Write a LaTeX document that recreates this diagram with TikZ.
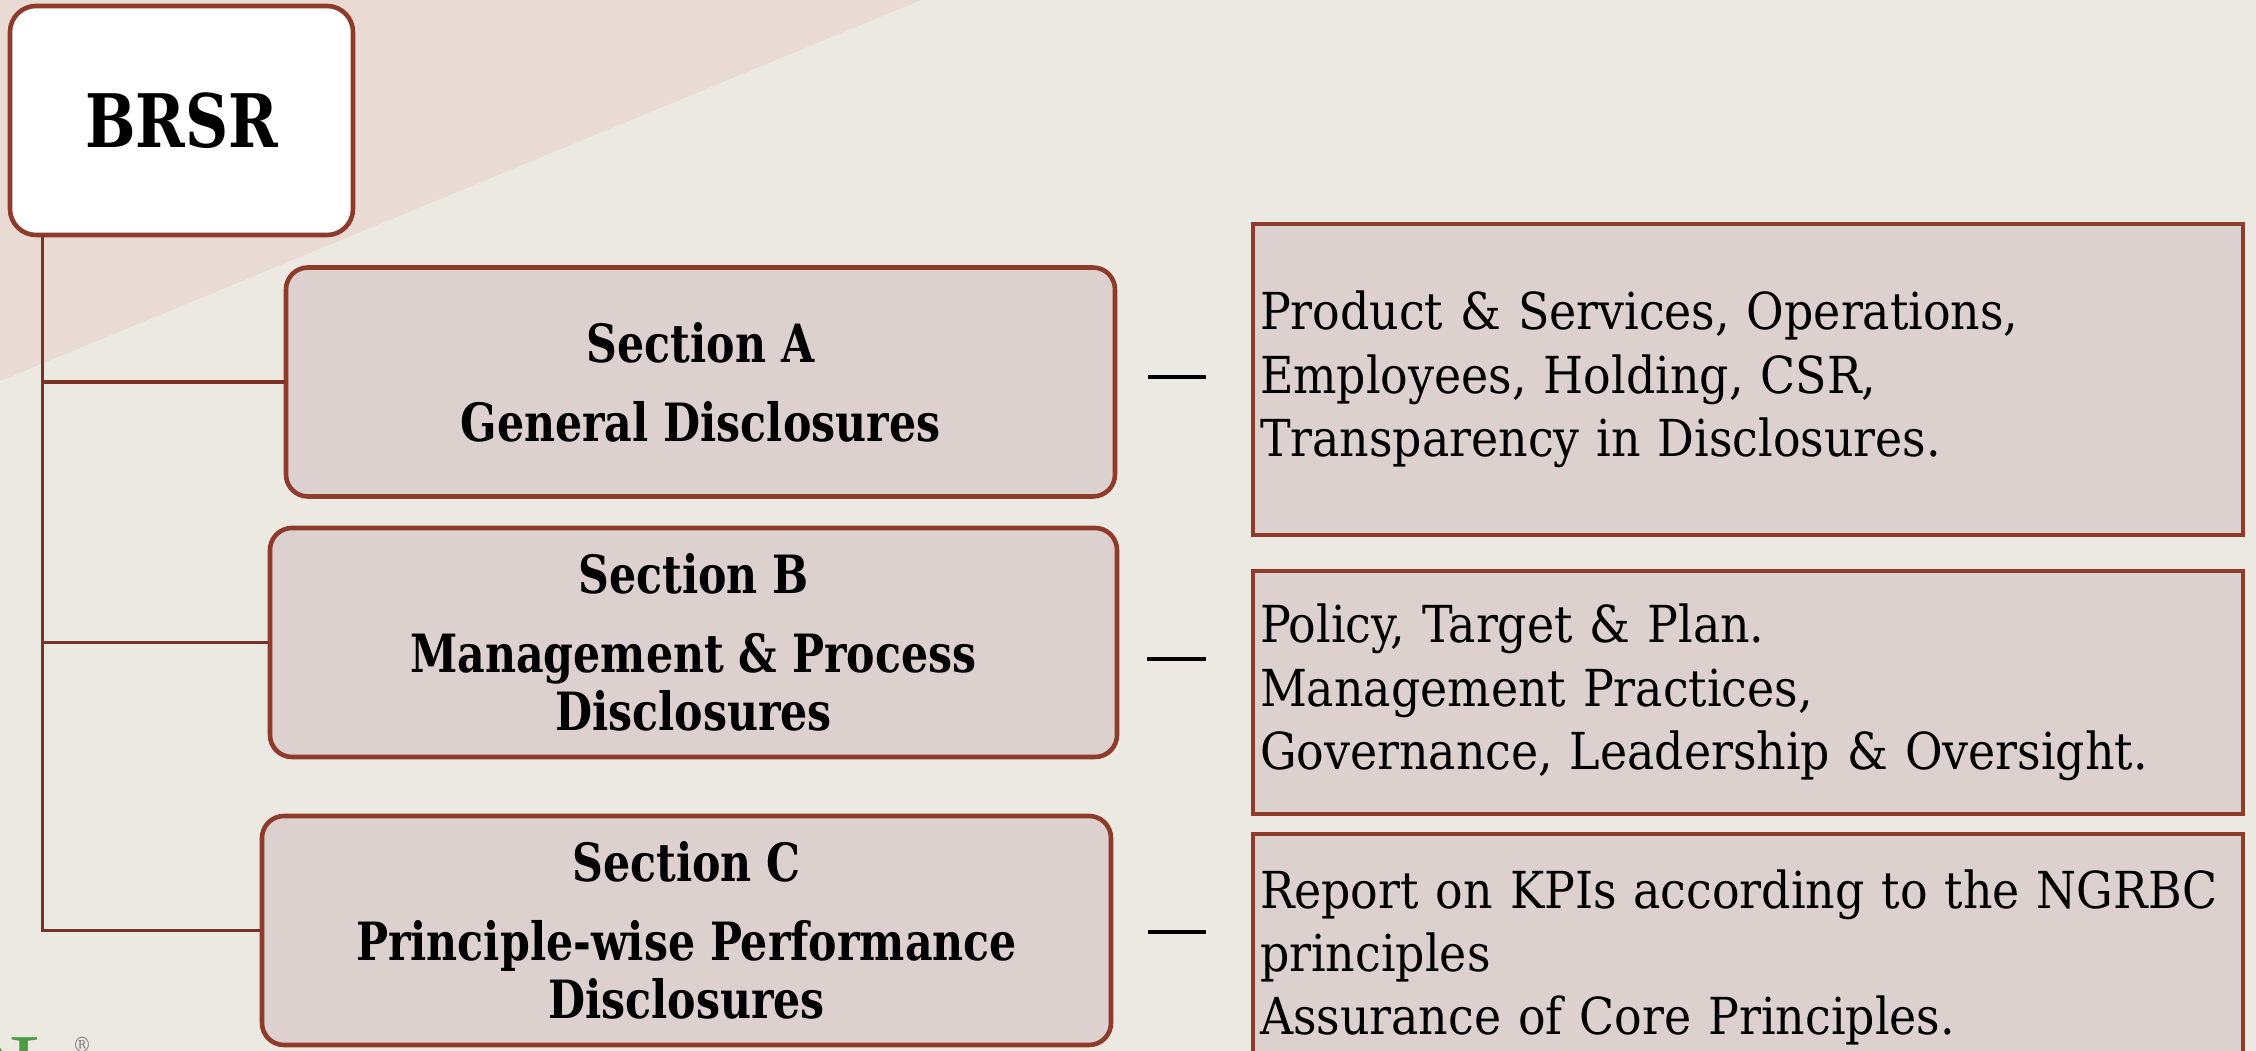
\documentclass[tikz,border=0pt]{standalone}
\usepackage{fontspec}
\setmainfont{DejaVu Serif Condensed}[BoldFeatures={FakeStretch=0.9}]
\newfontfamily\logofont{Liberation Serif}
\usetikzlibrary{calc}
\definecolor{pagebg}{HTML}{ECE8E2}
\definecolor{blush}{HTML}{E9DAD3}
\definecolor{boxfill}{HTML}{DCD1CF}
\definecolor{rust}{HTML}{8E3B2B}
\definecolor{logogreen}{HTML}{4E9A45}

\begin{document}
\begin{tikzpicture}[
    sectbox/.style={draw=rust, line width=1.3pt, fill=boxfill, rounded corners=0.22cm,
      minimum height=2.29cm, align=center, inner sep=0pt,
      font=\bfseries\fontsize{15}{16.5}\selectfont},
    infobox/.style={draw=rust, line width=1.3pt, fill=boxfill, minimum width=9.9cm,
      text width=9.76cm, inner xsep=0.07cm, align=left,
      font=\fontsize{14.5}{18}\selectfont},
    branch/.style={draw=rust!85!black, line width=1pt}
  ]
            \useasboundingbox (0, 0) rectangle (22.56, 10.51);
            \fill[pagebg] (0, 0) rectangle (22.56, 10.51);
            \fill[blush] (0, 10.51) -- (0, 6.7) -- (9.21, 10.51) -- cycle;
            \node[draw=rust, line width=1.3pt, fill=white, rounded corners=0.26cm,
              minimum width=3.43cm, minimum height=2.29cm,
              font=\bfseries\fontsize{21}{24}\selectfont] (brsr) at (1.815, 9.305) {BRSR};
            \node[sectbox, minimum width=8.29cm] (secA) at (7.005, 6.69)
              {Section A\\[6pt]General Disclosures};
            \node[sectbox, minimum width=8.47cm] (secB) at (6.935, 4.085)
              {Section B\\[6pt]Management \& Process\\Disclosures};
            \node[sectbox, minimum width=8.49cm] (secC) at (6.865, 1.205)
              {Section C\\[6pt]Principle-wise Performance\\Disclosures};
            \node[infobox, minimum height=3.11cm] (detA) at (17.48, 6.715)
              {Product \& Services, Operations,\\Employees, Holding, CSR,\\Transparency in Disclosures.};
            \node[infobox, minimum height=2.43cm] (detB) at (17.48, 3.585)
              {Policy, Target \& Plan.\\Management Practices,\\Governance, Leadership \& Oversight.};
            \node[infobox, minimum height=2.47cm] (detC) at (17.48, 0.935)
              {Report on KPIs according to the NGRBC\\principles\\Assurance of Core Principles.};
            \coordinate (trunk) at ($(brsr.south west) + (0.35, 0)$);
            \draw[branch] (trunk) |- (secC.west);
            \draw[branch] (trunk |- secA.west) -- (secA.west);
            \draw[branch] (trunk |- secB.west) -- (secB.west);
            \draw[line width=0.9pt] (11.48, 6.74) -- (12.06, 6.74);
            \draw[line width=0.9pt] (11.47, 3.92) -- (12.06, 3.92);
            \draw[line width=0.9pt] (11.48, 1.19) -- (12.06, 1.19);
            \node[text=logogreen, font=\logofont\fontsize{26}{26}\selectfont, anchor=north east,
              inner sep=0pt] (logo) at (0.66, 0.14) {DL};
            \node[text=gray, font=\fontsize{6}{6}\selectfont, anchor=north west,
              inner sep=0pt] (reg) at (0.72, 0.14) {®};
        \end{tikzpicture}
\end{document}
